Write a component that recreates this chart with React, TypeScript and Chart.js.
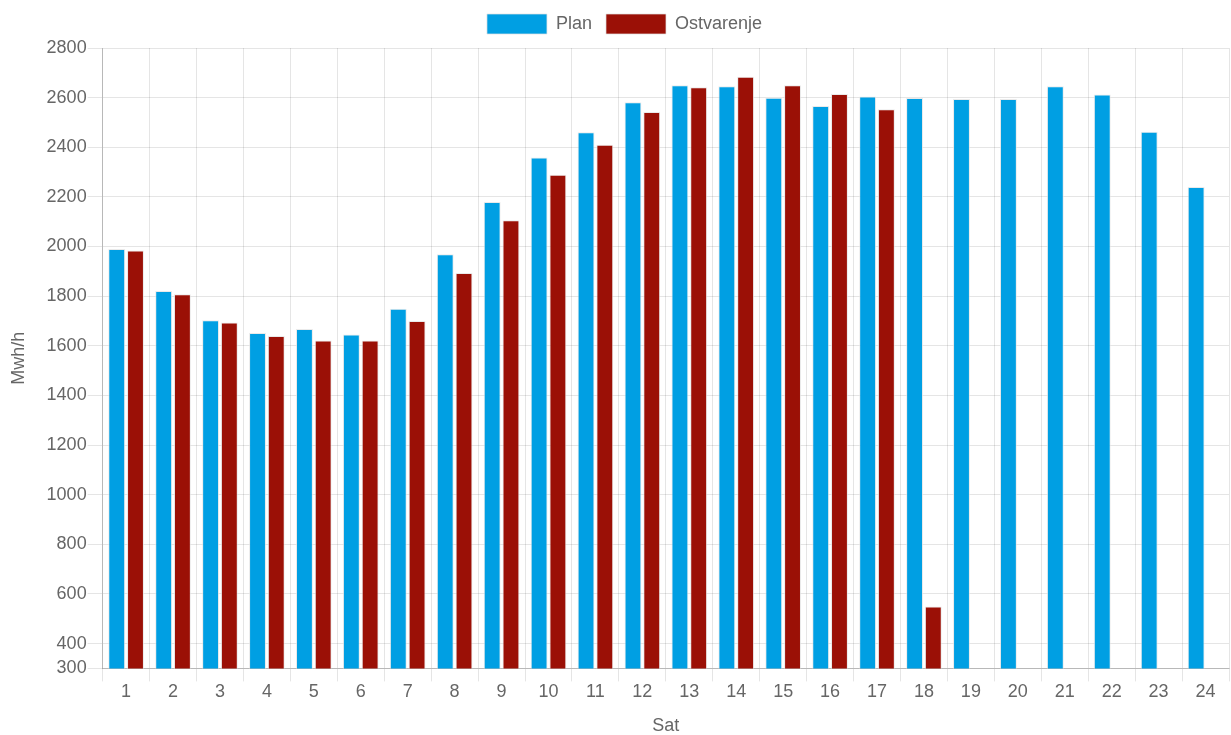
import React, { useEffect, useRef } from "react";
import { Chart, registerables } from "chart.js";

Chart.register(...registerables);

const hours = ["1","2","3","4","5","6","7","8","9","10","11","12","13","14","15","16","17","18","19","20","21","22","23","24"];
const planValues = [1990,1821,1703,1652,1668,1646,1749,1969,2179,2359,2461,2581,2650,2646,2600,2566,2605,2599,2594,2594,2646,2613,2463,2240];
const ostvarenjeValues: (number | null)[] = [1984,1808,1694,1639,1621,1621,1700,1893,2106,2289,2410,2542,2642,2684,2650,2615,2553,549,null,null,null,null,null,null];
const yTicks = [300,400,600,800,1000,1200,1400,1600,1800,2000,2200,2400,2600,2800];

const FONT = "'Liberation Sans', Arial, sans-serif";
const GREY = "#666666";

const legendSpacer = {
  id: "legendSpacer",
  beforeUpdate(chart: any) {
    const lg = chart.legend;
    if (lg && !lg._patched) {
      const orig = lg.fit;
      lg.fit = function () {
        orig.call(this);
        this.height += 4;
      };
      lg._patched = true;
    }
  },
  afterLayout(chart: any) {
    const lg = chart.legend;
    if (lg) {
      lg.left += 8;
      lg.right += 8;
    }
  },
};

export default function App() {
  const ref = useRef<HTMLCanvasElement | null>(null);
  useEffect(() => {
    document.body.style.margin = "0";
    if (!ref.current) return;
    const chart = new Chart(ref.current, {
      type: "bar",
      data: {
        labels: hours,
        datasets: [
          {
            label: "Plan",
            data: planValues,
            backgroundColor: "#009FE3",
            borderColor: "rgba(225,225,225,0.7)",
            borderWidth: 1,
          },
          {
            label: "Ostvarenje",
            data: ostvarenjeValues,
            backgroundColor: "#9B1006",
            borderColor: "rgba(225,225,225,0.7)",
            borderWidth: 1,
          },
        ],
      },
      plugins: [legendSpacer],
      options: {
        animation: false,
        responsive: false,
        maintainAspectRatio: false,
        devicePixelRatio: 1,
        layout: { padding: { left: 4, right: 2, top: 0, bottom: 0 } },
        plugins: {
          legend: {
            position: "top",
            labels: {
              boxWidth: 60,
              boxHeight: 20,
              color: GREY,
              font: { family: FONT, size: 18 },
              padding: 14,
            },
          },
          tooltip: { enabled: false },
        },
        scales: {
          x: {
            grid: { color: "rgba(0,0,0,0.1)", tickLength: 13, offset: true },
            border: { color: "rgba(0,0,0,0.2)" },
            ticks: { color: GREY, font: { family: FONT, size: 18 }, padding: 0 },
            title: { display: true, text: "Sat", color: GREY, font: { family: FONT, size: 18, lineHeight: 1 }, padding: { top: 14, bottom: 0 } },
          },
          y: {
            min: 300,
            max: 2800,
            afterBuildTicks: (axis: any) => {
              axis.ticks = yTicks.map((v) => ({ value: v }));
            },
            grid: { color: "rgba(0,0,0,0.1)", tickLength: 15 },
            border: { color: "rgba(0,0,0,0.2)" },
            ticks: {
              color: GREY,
              font: { family: FONT, size: 18 },
              padding: 1,
              autoSkip: false,
              callback: (v: any) => String(v),
            },
            title: { display: true, text: "Mwh/h", color: GREY, font: { family: FONT, size: 18 }, padding: { top: 4, bottom: 16 } },
          },
        },
      },
    });
    return () => chart.destroy();
  }, []);
  return (
    <div style={{ width: 1231, height: 735, position: "relative" }}>
      <canvas ref={ref} width={1231} height={735} style={{ display: "block" }} />
    </div>
  );
}
